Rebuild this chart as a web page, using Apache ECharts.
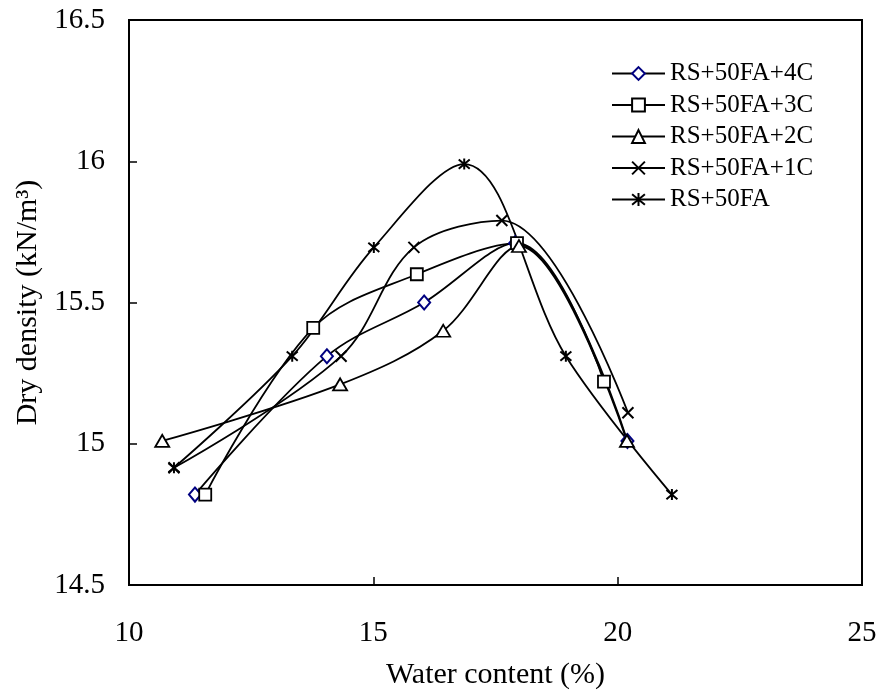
<!DOCTYPE html>
<html>
<head>
<meta charset="utf-8">
<script src="https://cdn.jsdelivr.net/npm/echarts@6/dist/echarts.min.js"></script>
<style>html,body{margin:0;padding:0;background:#fff}#c{width:882px;height:695px}</style>
</head>
<body>
<div id="c"></div>
<script>
const seriesNames = ['RS+50FA+4C', 'RS+50FA+3C', 'RS+50FA+2C', 'RS+50FA+1C', 'RS+50FA'];
const water4C = [11.35, 14.05, 16.04, 17.90, 20.20];
const dens4C  = [14.82, 15.31, 15.50, 15.71, 15.01];
const water3C = [11.56, 13.77, 15.89, 17.94, 19.72];
const dens3C  = [14.82, 15.41, 15.60, 15.71, 15.22];
const water2C = [10.68, 14.32, 16.43, 17.98, 20.19];
const dens2C  = [15.01, 15.21, 15.40, 15.70, 15.01];
const water1C = [10.92, 14.34, 15.83, 17.63, 20.21];
const dens1C  = [14.915, 15.31, 15.695, 15.79, 15.11];
const water0C = [10.92, 13.34, 15.01, 16.86, 18.94, 21.11];
const dens0C  = [14.915, 15.31, 15.695, 15.99, 15.31, 14.82];
const xTicks = [10, 15, 20, 25];
const yTicks = [14.5, 15, 15.5, 16, 16.5];

const FONT = "'Liberation Serif','Times New Roman',serif";
function pairs(xs, ys) { return xs.map((x, i) => [x, ys[i]]); }
const X_PATH = 'path://M0,0L10,10M10,0L0,10';
const STAR_PATH = 'path://M0,0L10,10M10,0L0,10M5,-1L5,11';

const defs = [
  {name: seriesNames[0], data: pairs(water4C, dens4C), symbol: 'diamond', size: [12, 14], border: '#000080', fill: '#fff', bw: 2},
  {name: seriesNames[1], data: pairs(water3C, dens3C), symbol: 'rect', size: 12, border: '#000', fill: '#fff', bw: 1.8},
  {name: seriesNames[2], data: pairs(water2C, dens2C), symbol: 'triangle', size: [14, 12], border: '#000', fill: '#fff', bw: 1.8},
  {name: seriesNames[3], data: pairs(water1C, dens1C), symbol: X_PATH, size: 11, border: '#000', fill: 'none', bw: 2},
  {name: seriesNames[4], data: pairs(water0C, dens0C), symbol: STAR_PATH, size: 11, border: '#000', fill: 'none', bw: 2}
];

const chart = echarts.init(document.getElementById('c'), null, {renderer: 'canvas'});
chart.setOption({
  backgroundColor: '#fff',
  animation: false,
  grid: {left: 129, right: 20, top: 20, bottom: 106, show: true, borderColor: '#000', borderWidth: 2, backgroundColor: 'transparent'},
  legend: {
    orient: 'vertical', left: 606, top: 56,
    itemWidth: 53, itemHeight: 16, itemGap: 6.5,
    textStyle: {fontFamily: FONT, fontSize: 25, color: '#000', lineHeight: 24},
    data: seriesNames
  },
  xAxis: {
    type: 'value', min: 10, max: 25, interval: 5,
    name: 'Water content (%)', nameLocation: 'middle', nameGap: 75,
    nameTextStyle: {fontFamily: FONT, fontSize: 30, color: '#000'},
    axisLine: {show: true, lineStyle: {color: '#000', width: 2}},
    axisTick: {show: true, inside: true, length: 8, lineStyle: {color: '#000', width: 1.5}},
    axisLabel: {fontFamily: FONT, fontSize: 29, color: '#000', margin: 34,
      formatter: v => xTicks.includes(v) ? String(v) : ''},
    splitLine: {show: false}
  },
  yAxis: {
    type: 'value', min: 14.5, max: 16.5, interval: 0.5,
    name: 'Dry density (kN/m³)', nameLocation: 'middle', nameGap: 77,
    nameTextStyle: {fontFamily: FONT, fontSize: 30, color: '#000'},
    axisLine: {show: true, lineStyle: {color: '#000', width: 2}},
    axisTick: {show: true, inside: true, length: 8, lineStyle: {color: '#000', width: 1.5}},
    axisLabel: {fontFamily: FONT, fontSize: 29, color: '#000', margin: 24,
      formatter: v => yTicks.includes(v) ? String(v) : ''},
    splitLine: {show: false}
  },
  series: defs.map(d => ({
    name: d.name, type: 'line', data: d.data, smooth: 0.35,
    symbol: d.symbol, symbolSize: d.size, showAllSymbol: true,
    lineStyle: {color: '#000', width: 1.8},
    itemStyle: {color: d.fill, borderColor: d.border, borderWidth: d.bw},
    z: 2
  }))
});
</script>
</body>
</html>
